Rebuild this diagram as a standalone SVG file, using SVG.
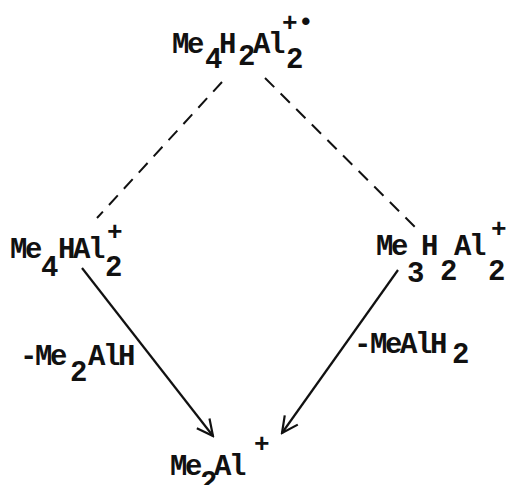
<svg xmlns="http://www.w3.org/2000/svg" width="509" height="485" viewBox="0 0 509 485">
<defs>
<style>
text{font-family:"Liberation Mono","DejaVu Sans Mono",monospace;font-size:29px;letter-spacing:-2.4px;font-weight:bold;fill:#111}
.sup{font-size:26px}
.dash{stroke:#111;stroke-width:2;fill:none;stroke-dasharray:13 9}
.arr{stroke:#111;stroke-width:2.2;fill:none}
</style>
<marker id="head" viewBox="0 0 20 20" refX="18" refY="10" markerWidth="20" markerHeight="20" markerUnits="userSpaceOnUse" orient="auto">
<path d="M2,2 L18,10 L2,18" fill="none" stroke="#111" stroke-width="2.2"/>
</marker>
</defs>
<rect width="509" height="485" fill="#fff"/>
<g id="connectors">
<line class="dash" x1="222" y1="82" x2="97" y2="218"/>
<line class="dash" x1="265" y1="78" x2="420" y2="232"/>
<line class="arr" x1="82" y1="268" x2="213" y2="436" marker-end="url(#head)"/>
<line class="arr" x1="398" y1="270" x2="282" y2="433" marker-end="url(#head)"/>
</g>
<g id="node-top">
<text><tspan x="172" y="53">Me</tspan><tspan x="205" y="68">4</tspan><tspan x="219" y="53">H</tspan><tspan x="238" y="65">2</tspan><tspan x="253" y="53">Al</tspan><tspan x="286" y="68">2</tspan><tspan class="sup" x="282" y="31">+</tspan><tspan class="sup" x="298" y="30">•</tspan></text>
</g>
<g id="node-left">
<text><tspan x="10" y="258">Me</tspan><tspan x="41" y="276">4</tspan><tspan x="58" y="258">HAl</tspan><tspan x="105" y="276">2</tspan><tspan class="sup" x="107" y="240">+</tspan></text>
</g>
<g id="node-right">
<text><tspan x="376" y="255">Me</tspan><tspan x="407" y="282">3</tspan><tspan x="421" y="255">H</tspan><tspan x="440" y="280">2</tspan><tspan x="454" y="255">Al</tspan><tspan x="488" y="280">2</tspan><tspan class="sup" x="491" y="237">+</tspan></text>
</g>
<g id="node-bottom">
<text><tspan x="170" y="475">Me</tspan><tspan x="200" y="491">2</tspan><tspan x="214" y="475">Al</tspan><tspan class="sup" x="254" y="452">+</tspan></text>
</g>
<g id="label-left">
<text><tspan x="20" y="365">-</tspan><tspan x="35" y="365">Me</tspan><tspan x="70" y="381">2</tspan><tspan x="88" y="365">AlH</tspan></text>
</g>
<g id="label-right">
<text><tspan x="354" y="353">-</tspan><tspan x="370" y="353">MeAlH</tspan><tspan x="452" y="363">2</tspan></text>
</g>
</svg>
